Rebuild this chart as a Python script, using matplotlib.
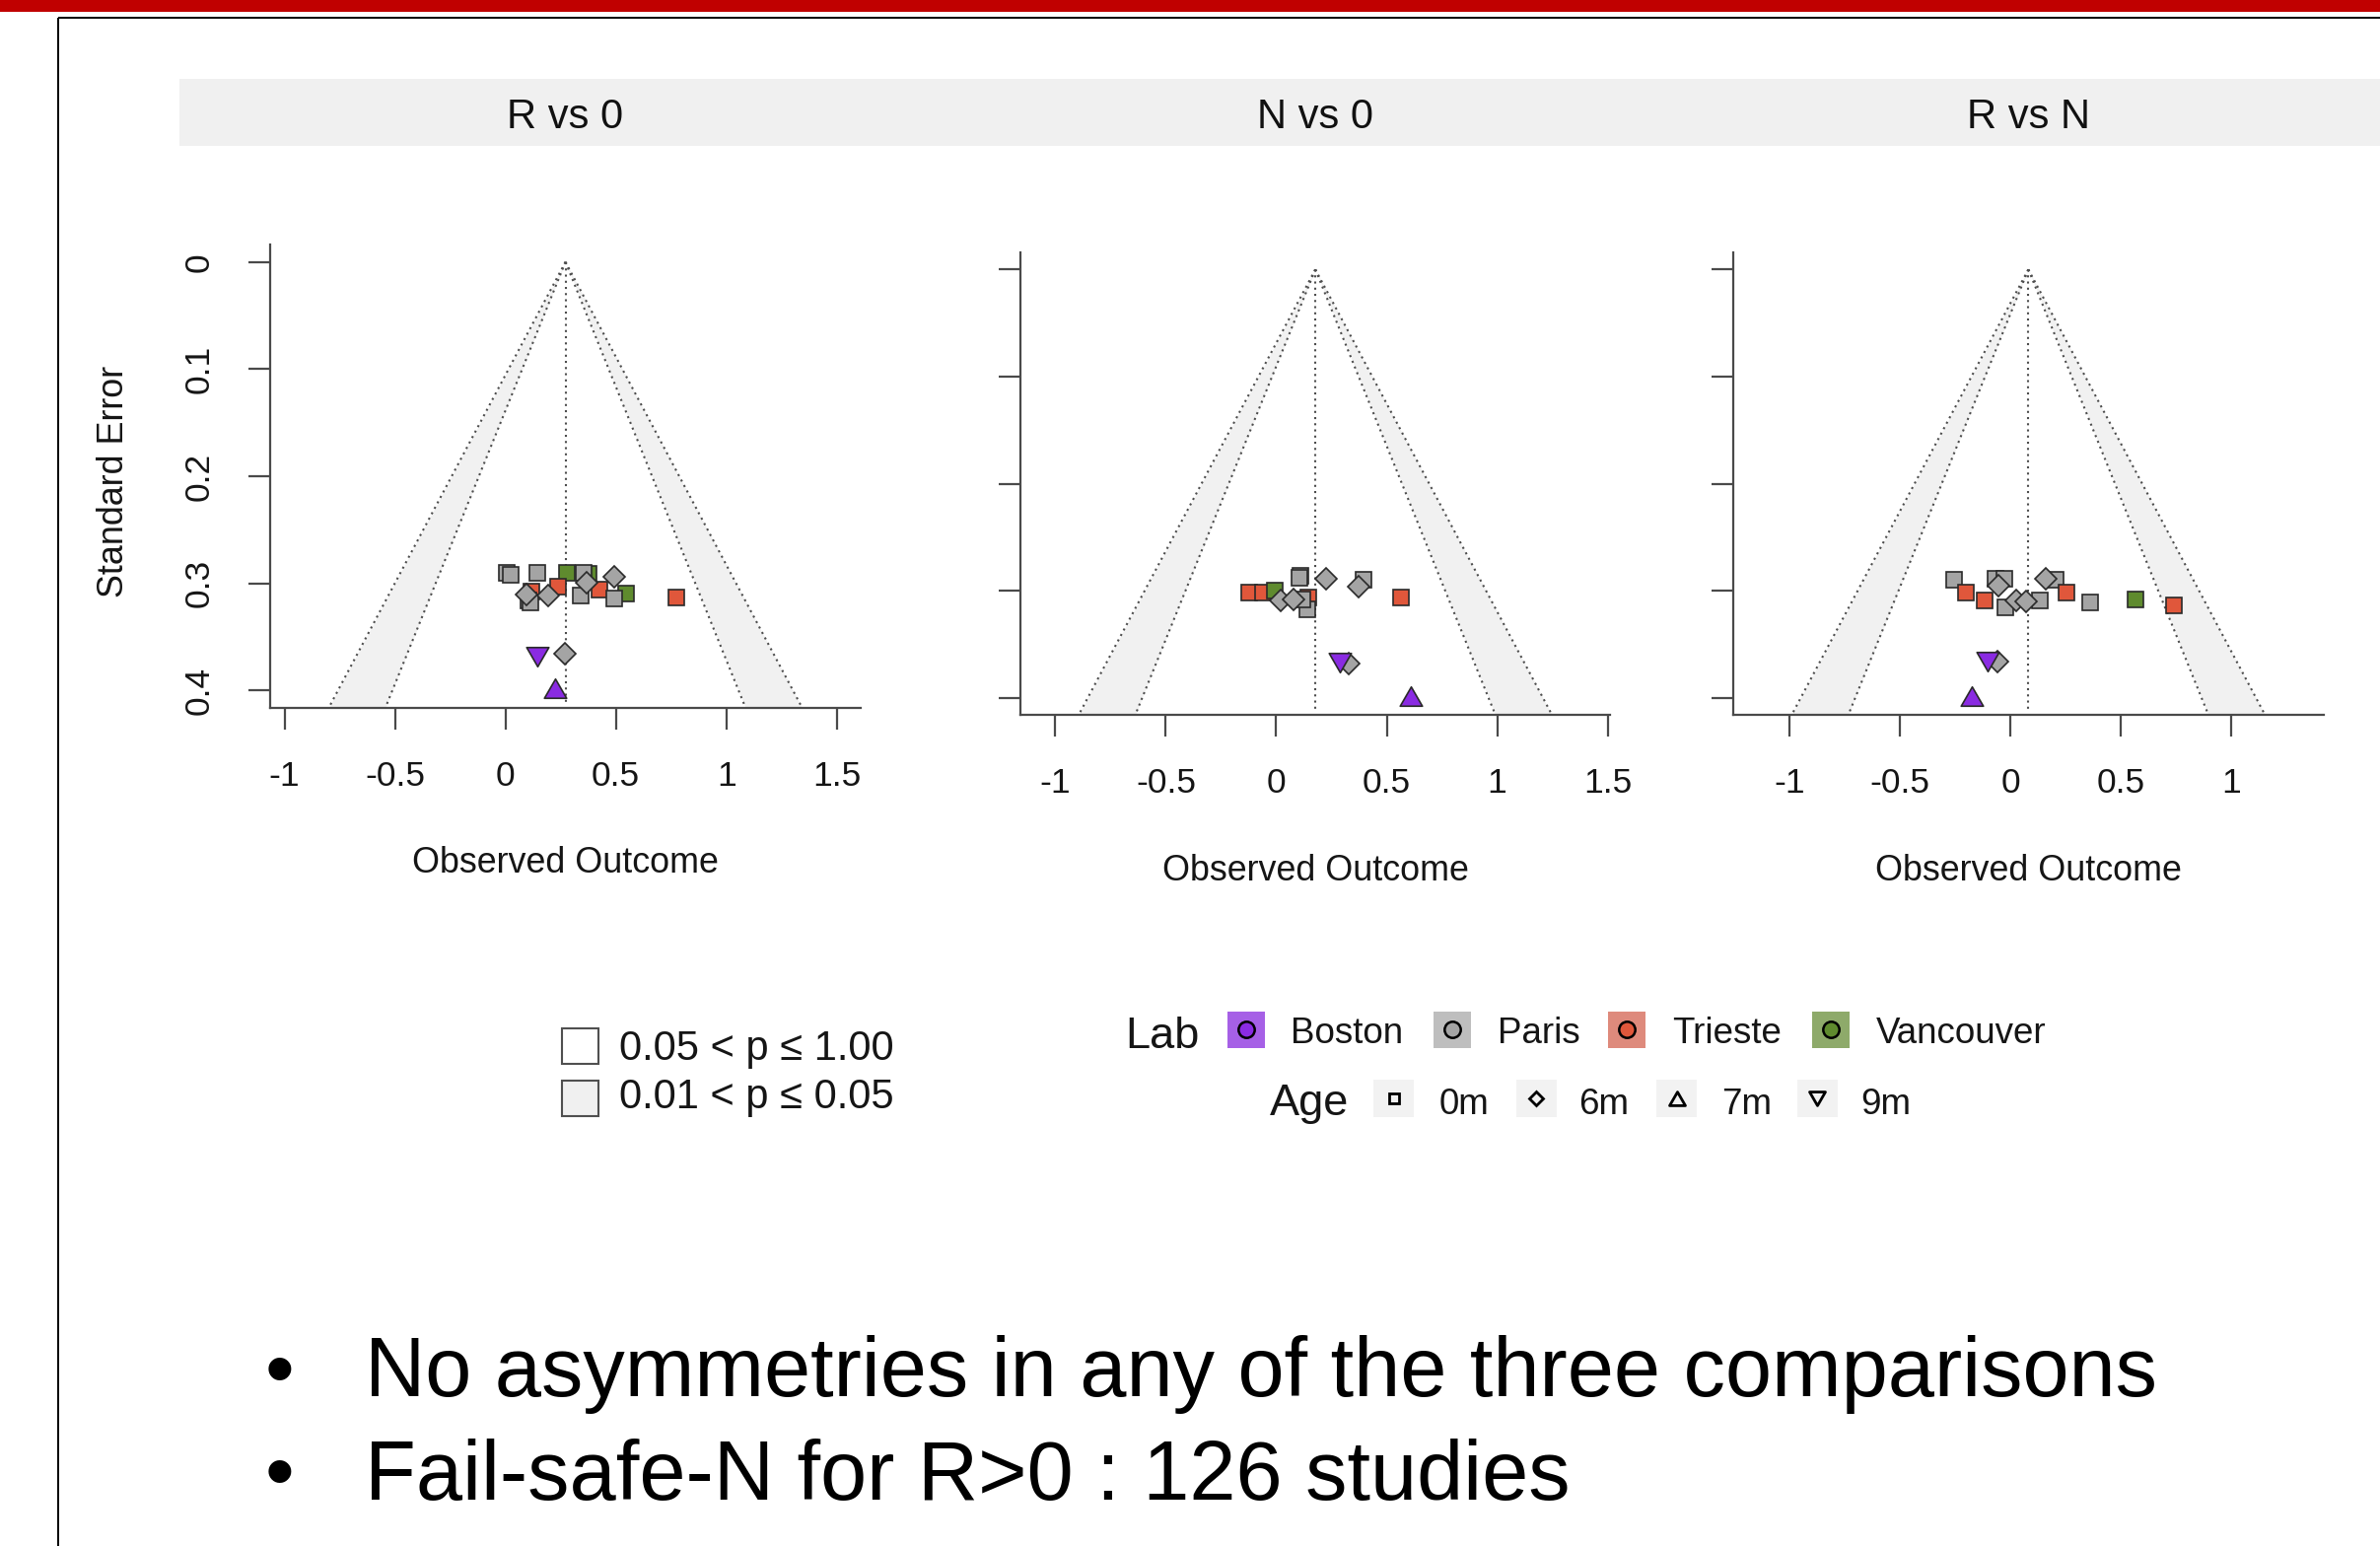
import matplotlib
matplotlib.use("Agg")
import matplotlib.pyplot as plt
from matplotlib.patches import Rectangle
from matplotlib.path import Path
import numpy as np

plt.rcParams['font.family'] = ['Liberation Sans', 'DejaVu Sans']

W, H, DPI = 2414, 1568, 100

# ---------------------------------------------------------------- data
panel_titles = ["R vs 0", "N vs 0", "R vs N"]
pooled = [0.272, 0.177, 0.081]          # summary estimate per comparison
x_ticks = [[-1, -0.5, 0, 0.5, 1, 1.5], [-1, -0.5, 0, 0.5, 1, 1.5], [-1, -0.5, 0, 0.5, 1]]
x_tick_labels = [["-1", "-0.5", "0", "0.5", "1", "1.5"],
                 ["-1", "-0.5", "0", "0.5", "1", "1.5"],
                 ["-1", "-0.5", "0", "0.5", "1"]]
y_ticks = [0, 0.1, 0.2, 0.3, 0.4]
y_tick_labels = ["0", "0.1", "0.2", "0.3", "0.4"]

# R vs 0
r0_yi = [0.008, 0.026, 0.146, 0.376, 0.279, 0.354, 0.238, 0.424, 0.118, 0.343, 0.548,
         0.491, 0.776, 0.105, 0.115, 0.492, 0.367, 0.096, 0.192, 0.268, 0.146, 0.223]
r0_sei = [0.290, 0.292, 0.290, 0.291, 0.290, 0.290, 0.303, 0.306, 0.308, 0.311, 0.309,
          0.314, 0.313, 0.316, 0.318, 0.294, 0.299, 0.310, 0.311, 0.366, 0.368, 0.398]
r0_lab = ["Paris", "Paris", "Paris", "Vancouver", "Vancouver", "Paris", "Trieste", "Trieste",
          "Trieste", "Paris", "Vancouver", "Paris", "Trieste", "Paris", "Paris", "Paris",
          "Paris", "Paris", "Paris", "Paris", "Boston", "Boston"]
r0_age = ["0m", "0m", "0m", "0m", "0m", "0m", "0m", "0m", "0m", "0m", "0m",
          "0m", "0m", "0m", "0m", "6m", "6m", "6m", "6m", "6m", "9m", "7m"]

# N vs 0
n0_yi = [-0.121, -0.062, -0.006, 0.147, 0.110, 0.107, 0.142, 0.120, 0.397, 0.564,
         0.018, 0.077, 0.225, 0.373, 0.329, 0.286, 0.610]
n0_sei = [0.302, 0.302, 0.300, 0.306, 0.286, 0.288, 0.317, 0.308, 0.290, 0.306,
          0.309, 0.308, 0.289, 0.296, 0.368, 0.367, 0.398]
n0_lab = ["Trieste", "Trieste", "Vancouver", "Trieste", "Paris", "Paris", "Paris", "Paris",
          "Paris", "Trieste", "Paris", "Paris", "Paris", "Paris", "Paris", "Boston", "Boston"]
n0_age = ["0m", "0m", "0m", "0m", "0m", "0m", "0m", "0m", "0m", "0m",
          "6m", "6m", "6m", "6m", "6m", "9m", "7m"]

# R vs N
rn_yi = [-0.256, -0.069, -0.028, -0.204, -0.115, -0.022, 0.135, 0.203, 0.255, 0.360,
         0.564, 0.739, -0.056, 0.028, 0.070, 0.162, -0.060, -0.103, -0.176]
rn_sei = [0.290, 0.289, 0.289, 0.302, 0.309, 0.316, 0.309, 0.290, 0.302, 0.311,
          0.308, 0.314, 0.295, 0.309, 0.310, 0.289, 0.366, 0.366, 0.398]
rn_lab = ["Paris", "Paris", "Paris", "Trieste", "Trieste", "Paris", "Paris", "Paris",
          "Trieste", "Paris", "Vancouver", "Trieste", "Paris", "Paris", "Paris", "Paris",
          "Paris", "Boston", "Boston"]
rn_age = ["0m", "0m", "0m", "0m", "0m", "0m", "0m", "0m", "0m", "0m", "0m", "0m",
          "6m", "6m", "6m", "6m", "6m", "9m", "7m"]

panels = [(r0_yi, r0_sei, r0_lab, r0_age),
          (n0_yi, n0_sei, n0_lab, n0_age),
          (rn_yi, rn_sei, rn_lab, rn_age)]

labs = ["Boston", "Paris", "Trieste", "Vancouver"]
ages = ["0m", "6m", "7m", "9m"]
p_labels = ["0.05 < p \u2264 1.00", "0.01 < p \u2264 0.05"]

bullets = ["No asymmetries in any of the three comparisons",
           "Fail-safe-N for R>0 : 126 studies"]

# ---------------------------------------------------------------- styles
lab_colors = {"Boston": "#8A2BE2", "Paris": "#A4A4A4",
              "Trieste": "#E0573B", "Vancouver": "#5F8B2E"}
lab_key_colors = {"Boston": "#A660E6", "Paris": "#BEBEBE",
                  "Trieste": "#DE8A7C", "Vancouver": "#8EAA6A"}
tri_up = Path([(0, 0.433), (-0.5, -0.433), (0.5, -0.433), (0, 0.433)],
              [Path.MOVETO, Path.LINETO, Path.LINETO, Path.CLOSEPOLY])
tri_dn = Path([(0, -0.433), (-0.5, 0.433), (0.5, 0.433), (0, -0.433)],
              [Path.MOVETO, Path.LINETO, Path.LINETO, Path.CLOSEPOLY])
age_markers = {"0m": "s", "6m": "D", "7m": tri_up, "9m": tri_dn}
age_msize = {"0m": 11.4, "6m": 10.8, "7m": 16.2, "9m": 16.2}
key_msize = {"0m": 7.5, "6m": 7.2, "7m": 11.5, "9m": 11.5}

SPINE = "#4a4a4a"
DOT = (0, (1, 2.0))

fig = plt.figure(figsize=(W / DPI, H / DPI), dpi=DPI)
fig.patch.set_facecolor("white")

# full-figure pixel canvas for the slide furniture and legends
bg = fig.add_axes([0, 0, 1, 1])
bg.set_xlim(0, W)
bg.set_ylim(H, 0)
bg.axis("off")

bg.add_patch(Rectangle((0, 0), W, 11.7, facecolor="#C00000", edgecolor="none"))
bg.plot([58.5, W], [18, 18], color="black", lw=1.4, solid_capstyle="butt")
bg.plot([58.5, 58.5], [18, H], color="black", lw=1.4, solid_capstyle="butt")
bg.add_patch(Rectangle((181.6, 80), W - 181.6, 68, facecolor="#F0F0F0", edgecolor="none"))

# panel geometry in pixels: left, top, bottom
ax_w = 598.3
ax_geom = [(274.4, 248.3, 717.8), (1035.0, 255.9, 725.1), (1758.2, 255.9, 725.1)]
half = 2.576 * 0.4 * 1.2 * 1.08
se_top = 0.416

for i, (left, top, bottom) in enumerate(ax_geom):
    yi, sei, lab, age = panels[i]
    c = pooled[i]
    ax = fig.add_axes([left / W, 1 - bottom / H, ax_w / W, (bottom - top) / H])
    ax.set_facecolor("white")
    ax.set_xlim(c - half, c + half)
    ax.set_ylim(se_top, -0.016)

    se = np.array([0.0, se_top])
    # significance contours
    ax.fill_betweenx(se, c - 2.576 * se, c - 1.96 * se, color="#F1F1F1", lw=0, zorder=1)
    ax.fill_betweenx(se, c + 1.96 * se, c + 2.576 * se, color="#F1F1F1", lw=0, zorder=1)
    for z in (1.96, 2.576):
        ax.plot(c - z * se, se, color="#4d4d4d", lw=1.5, ls=DOT, zorder=2)
        ax.plot(c + z * se, se, color="#4d4d4d", lw=1.5, ls=DOT, zorder=2)
    ax.plot([c, c], [0, 0.414], color="#4d4d4d", lw=1.5, ls=DOT, zorder=2)

    for k, (x, s, lb, ag) in enumerate(zip(yi, sei, lab, age)):
        ax.plot(x, s, marker=age_markers[ag], ms=age_msize[ag], mfc=lab_colors[lb],
                mec="#2a2a2a", mew=1.2, ls="none", zorder=3 + k * 0.01)

    for sp in ("top", "right"):
        ax.spines[sp].set_visible(False)
    for sp in ("left", "bottom"):
        ax.spines[sp].set_color(SPINE)
        ax.spines[sp].set_linewidth(1.6)
    ax.set_xticks(x_ticks[i], labels=x_tick_labels[i])
    ax.set_yticks(y_ticks)
    ax.tick_params(axis="both", direction="out", length=16, width=1.6, color=SPINE,
                   labelsize=25.5, labelcolor="#151515")
    ax.tick_params(axis="x", pad=22.3)
    if i == 0:
        ax.set_yticklabels(y_tick_labels, rotation=90, va="center")
        ax.tick_params(axis="y", pad=24.5)
    else:
        ax.set_yticklabels([])

    cx = left + ax_w / 2
    bg.text(cx, bottom + 167.5, "Observed Outcome", fontsize=25.8, color="#151515",
            ha="center", va="baseline")
    bg.text(cx, 130, panel_titles[i], fontsize=30, color="#111111",
            ha="center", va="baseline")

bg.text(124.7, 488, "Standard Error", fontsize=25.8, color="#151515", rotation=90,
        rotation_mode="anchor", ha="center", va="baseline")

# p-value legend
p_fill = ["white", "#F0F0F0"]
p_box_y = [1043.3, 1096.0]
p_base = [1075.0, 1124.3]
for fc, by, bl, txt in zip(p_fill, p_box_y, p_base, p_labels):
    bg.add_patch(Rectangle((570, by), 36.5, 36, facecolor=fc, edgecolor="#505050", lw=1.5))
    bg.text(628.3, bl, txt, fontsize=30, color="#151515", ha="left", va="baseline")

# Lab legend
bg.text(1141.4, 1063.3, "Lab", fontsize=32.5, color="#151515", ha="left", va="baseline")
lab_box_x = [1245.0, 1454.0, 1630.7, 1838.3]
lab_text_x = [1309.3, 1519.3, 1696.0, 1903.3]
for lb, bx, tx in zip(labs, lab_box_x, lab_text_x):
    bg.add_patch(Rectangle((bx, 1025.7), 38, 37, facecolor=lab_key_colors[lb], edgecolor="none"))
    bg.plot(bx + 19, 1044.2, marker="o", ms=11.8, mfc=lab_colors[lb], mec="black", mew=1.8)
    bg.text(tx, 1058.3, lb, fontsize=26.5, color="#151515", ha="left", va="baseline")

# Age legend
bg.text(1287.9, 1130.7, "Age", fontsize=32.5, color="#151515", ha="left", va="baseline")
age_box_x = [1393.0, 1537.9, 1680.0, 1822.7]
age_text_x = [1459.3, 1601.4, 1746.0, 1887.7]
for ag, bx, tx in zip(ages, age_box_x, age_text_x):
    bg.add_patch(Rectangle((bx, 1095.0), 41, 38.3, facecolor="#F2F2F2", edgecolor="none"))
    bg.plot(bx + 20.5, 1114.2, marker=age_markers[ag], ms=key_msize[ag], mfc="#F2F2F2",
            mec="black", mew=2.0)
    bg.text(tx, 1130.0, ag, fontsize=26.5, color="#151515", ha="left", va="baseline")

# bullet points
for yb, line in zip([1416.5, 1520.5], bullets):
    bg.text(283.5, yb, "\u2022", fontsize=61, color="black", ha="center", va="baseline")
    bg.text(370, yb, line, fontsize=61, color="black", ha="left", va="baseline")

fig.savefig("out.png", dpi=DPI)
